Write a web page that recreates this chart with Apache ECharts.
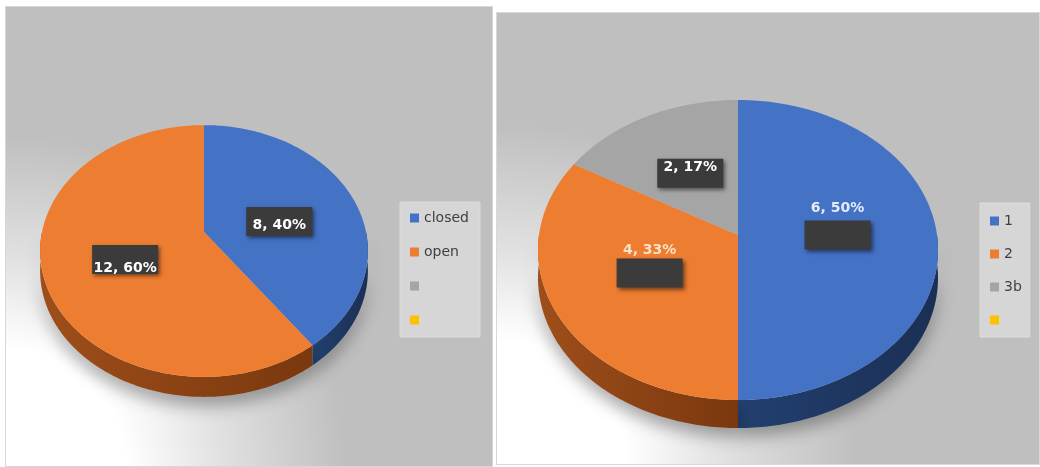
<!DOCTYPE html>
<html>
<head>
<meta charset="utf-8">
<title>3D pies</title>
<script src="https://cdn.jsdelivr.net/npm/echarts@6/dist/echarts.min.js"></script>
<style>
html, body { margin: 0; padding: 0; background: #fff; }
#wrap { position: relative; width: 1040px; height: 467px; overflow: hidden; }
.panel { position: absolute; box-sizing: border-box; border: 1px solid #d8d8d8; }
#p1 { left: 5px; top: 6px; width: 488px; height: 461px;
  background: radial-gradient(ellipse 340px 330px at 0 100%, #fff 0%, #fff 35%, #e2e2e2 62%, #bfbfbf 100%); }
#p2 { left: 496px; top: 12px; width: 544px; height: 453px;
  background: radial-gradient(ellipse 360px 340px at 0 100%, #fff 0%, #fff 36%, #e2e2e2 62%, #bfbfbf 100%); }
#main { position: absolute; left: 0; top: 0; width: 1040px; height: 467px; }
</style>
</head>
<body>
<div id="wrap">
  <div class="panel" id="p1"></div>
  <div class="panel" id="p2"></div>
  <div id="main"></div>
</div>
<script>
// data
var leftNames = ['closed', 'open', 'L3', 'L4'];
var leftValues = [8, 12, 0, 0];
var rightNames = ['1', '2', '3b', 'R4'];
var rightValues = [6, 4, 2, 0];
// legend text shown for each name (blank entries show nothing)
var legendText = { closed: 'closed', open: 'open', L3: ' ', L4: ' ', '1': '1', '2': '2', '3b': '3b', R4: ' ' };

var topColors = ['#4472C4', '#ED7D31', '#A5A5A5', '#FFC000'];
var sideColors = [['#22406f', '#1b2f55'], ['#9e4e1a', '#7a380e'], ['#7c7c7c', '#636363'], ['#bf9000', '#9a7400']];

// projection of each pie (tilted disc with a little perspective)
var pies = [
  { cx: 204, cy: 232, a: 162, b: 123, k: 0.151, depth: 20, boxDy: 8,
    textDy: [4, 9], textColor: ['#ffffff', '#ffffff'] },
  { cx: 738, cy: 235, a: 199, b: 148.5, k: 0.1, depth: 28, boxDy: 0,
    textDy: [-27, -23, -6], textColor: ['#e4ecfa', '#fde2c6', '#ffffff'] }
];

function project(p, u, v) {
  var d = 1 + p.k * v;
  return [p.cx + p.a * u / d, p.cy - p.b * v / d];
}

function rim(p, t0, t1, dy) {
  var pts = [];
  var n = Math.max(2, Math.ceil((t1 - t0) / (Math.PI / 180)));
  for (var i = 0; i <= n; i++) {
    var t = t0 + (t1 - t0) * i / n;
    var q = project(p, Math.sin(t), Math.cos(t));
    pts.push([q[0], q[1] + (dy || 0)]);
  }
  return pts;
}

function makeRender(pieIdx, values) {
  var p = pies[pieIdx];
  var total = values.reduce(function (s, v) { return s + v; }, 0);
  return function (params, api) {
    var start = api.value(0), val = api.value(1), idx = api.value(2);
    if (!val) return { type: 'group', children: [] };
    var t0 = start / total * 2 * Math.PI;
    var t1 = (start + val) / total * 2 * Math.PI;
    var children = [];
    // visible front wall
    var s0 = Math.max(t0, Math.PI / 2), s1 = Math.min(t1, Math.PI * 1.5);
    if (s1 > s0) {
      var up = rim(p, s0, s1, 0);
      var down = rim(p, s0, s1, p.depth).reverse();
      children.push({
        type: 'polygon', z2: 1,
        shape: { points: up.concat(down) },
        style: {
          fill: { type: 'linear', x: 0, y: 0, x2: 1, y2: 0,
            colorStops: [{ offset: 0, color: sideColors[idx][0] }, { offset: 1, color: sideColors[idx][1] }] },
          shadowBlur: 16, shadowOffsetY: 9, shadowColor: 'rgba(0,0,0,0.32)'
        }
      });
    }
    // top face
    var c = project(p, 0, 0);
    children.push({
      type: 'polygon', z2: 5,
      shape: { points: [c].concat(rim(p, t0, t1, 0)) },
      style: { fill: api.visual('color') }
    });
    // data label
    var tm = (t0 + t1) / 2;
    var lp = project(p, 0.5 * Math.sin(tm), 0.5 * Math.cos(tm));
    var bx = lp[0], by = lp[1] + p.boxDy;
    children.push({
      type: 'rect', z2: 8,
      shape: { x: bx - 33, y: by - 14.5, width: 66, height: 29 },
      style: { fill: '#3b3b3b', shadowBlur: 4, shadowOffsetX: 2, shadowOffsetY: 2, shadowColor: 'rgba(0,0,0,0.5)' }
    });
    children.push({
      type: 'text', z2: 9,
      style: {
        text: val + ', ' + Math.round(val / total * 100) + '%',
        x: bx, y: by + p.textDy[idx],
        align: 'center', verticalAlign: 'middle',
        textAlign: 'center', textVerticalAlign: 'middle',
        font: 'bold 14px "DejaVu Sans"',
        fill: p.textColor[idx]
      }
    });
    return { type: 'group', children: children };
  };
}

function buildSeries(pieIdx, names, values) {
  var out = [];
  var cum = 0;
  for (var i = 0; i < names.length; i++) {
    out.push({
      type: 'custom',
      name: names[i],
      coordinateSystem: 'none',
      itemStyle: { color: topColors[i] },
      data: [[cum, values[i], i]],
      renderItem: makeRender(pieIdx, values),
      silent: true
    });
    cum += values[i];
  }
  return out;
}

var legendBase = {
  orient: 'vertical',
  icon: 'rect',
  itemWidth: 9,
  itemHeight: 9,
  backgroundColor: '#d6d6d6',
  borderColor: '#dcdcdc',
  borderWidth: 1,
  selectedMode: false,
  textStyle: { fontFamily: 'DejaVu Sans', fontSize: 14, color: '#404040' },
  formatter: function (name) { return legendText[name]; }
};

var myChart = echarts.init(document.getElementById('main'));
var option = {
  animation: false,
  backgroundColor: 'transparent',
  tooltip: { show: false },
  legend: [
    Object.assign({}, legendBase, { data: leftNames, left: 400, top: 202, itemGap: 20, padding: [9, 11, 10, 10] }),
    Object.assign({}, legendBase, { data: rightNames, left: 980, top: 203, itemGap: 19, padding: [11, 8, 10, 10] })
  ],
  series: buildSeries(0, leftNames, leftValues).concat(buildSeries(1, rightNames, rightValues))
};
myChart.setOption(option);
</script>
</body>
</html>
